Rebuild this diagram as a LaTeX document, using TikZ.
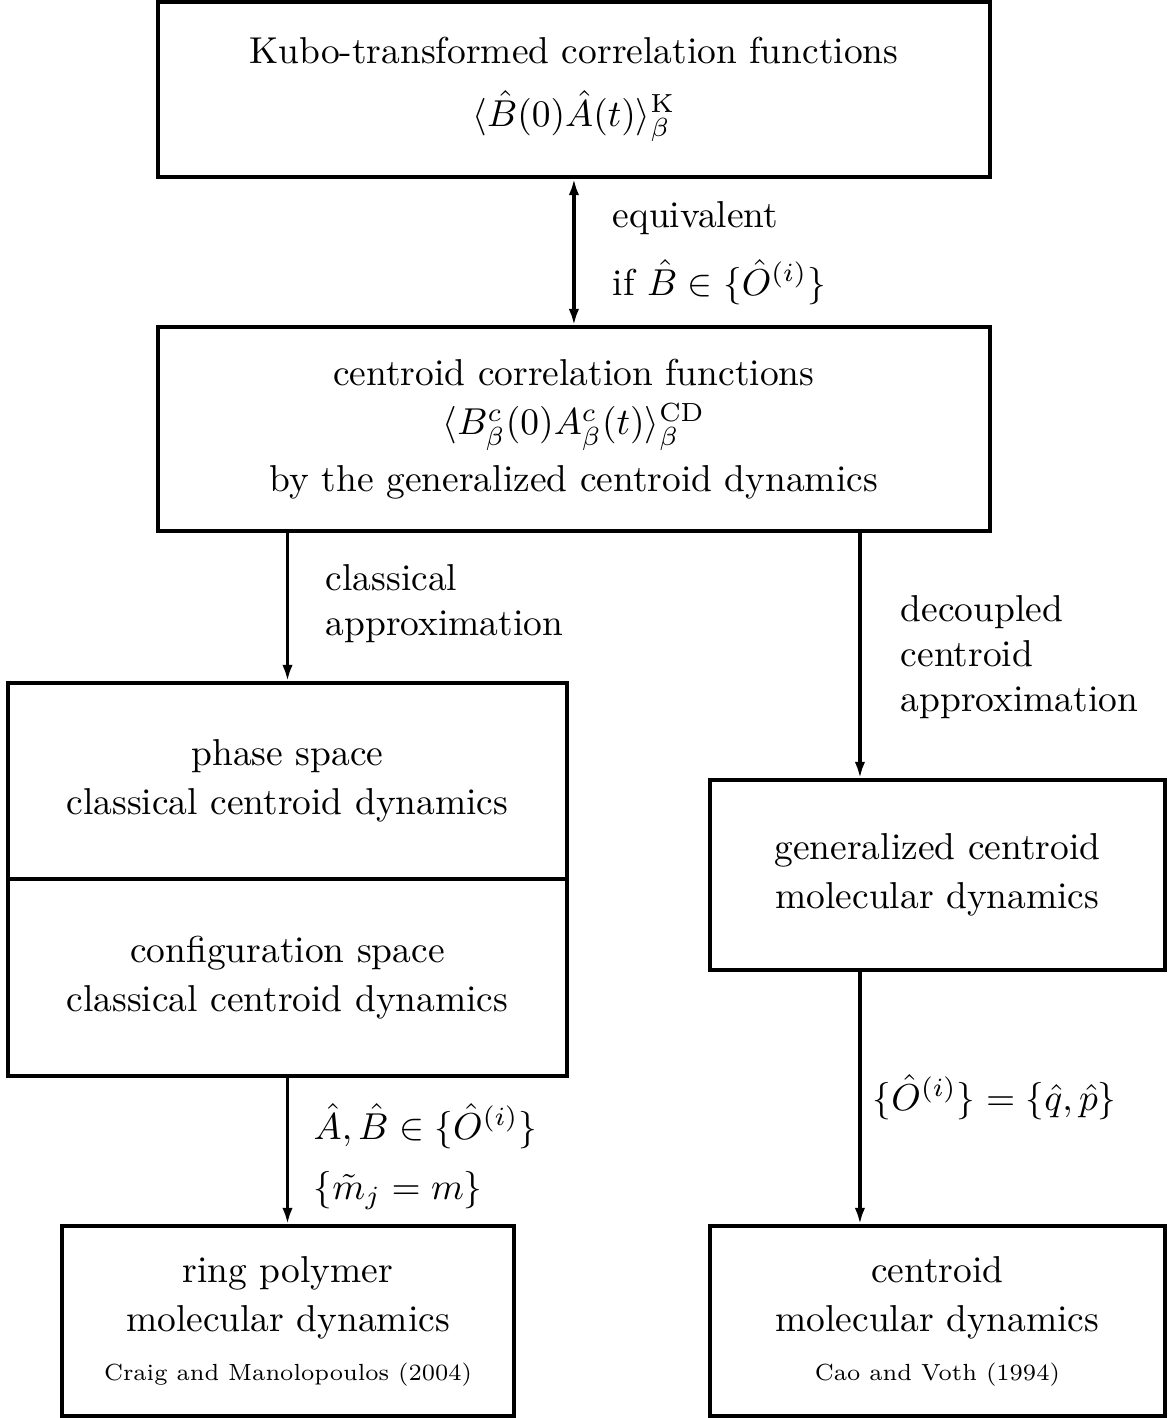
\documentclass[tikz,border=0pt]{standalone}
\usepackage{amsmath}
\usepackage{tikz}
\usetikzlibrary{arrows.meta}
\pgfdeclarelayer{edgelayer}
\pgfdeclarelayer{nodelayer}
\pgfsetlayers{edgelayer,nodelayer,main}
\tikzstyle{none}=[inner sep=0pt]
\tikzstyle{box}=[rectangle, draw, line width=0.9pt, align=center, font=\linespread{1.09}\selectfont]
\tikzstyle{link}=[line width=0.9pt, >={Latex[length=4.4pt,width=2.8pt]}]
\newcommand{\refnote}[1]{\scalebox{0.89}{\scriptsize #1}}

\begin{document}
\begin{tikzpicture}
    \useasboundingbox (0,0) rectangle (10.989,-13.307);
    \begin{pgfonlayer}{nodelayer}
	\node [style=box, minimum width=7.808cm, minimum height=1.642cm] (0) at (5.386, -0.840) {Kubo-transformed correlation functions\\[3.7pt] $\langle\hat{B}(0)\hat{A}(t)\rangle_\beta^{\mathrm{K}}$};
	\node [style=box, minimum width=7.808cm, minimum height=1.914cm] (1) at (5.386, -4.026) {centroid correlation functions\\ $\langle B^c_\beta(0)A^c_\beta(t)\rangle_\beta^{\mathrm{CD}}$\\[2pt] by the generalized centroid dynamics};
	\node [style=box, minimum width=5.246cm, minimum height=1.840cm] (2) at (2.698, -7.329) {phase space\\ classical centroid dynamics};
	\node [style=box, minimum width=5.246cm, minimum height=1.848cm] (3) at (2.698, -9.173) {configuration space\\ classical centroid dynamics};
	\node [style=box, minimum width=4.270cm, minimum height=1.783cm] (4) at (8.797, -8.211) {generalized centroid\\ molecular dynamics};
	\node [style=box, minimum width=4.242cm, minimum height=1.783cm] (5) at (2.703, -12.396) {ring polymer\\ molecular dynamics\\ \refnote{Craig and Manolopoulos (2004)}};
	\node [style=box, minimum width=4.270cm, minimum height=1.783cm] (6) at (8.797, -12.396) {centroid\\ molecular dynamics\\ \refnote{Cao and Voth (1994)}};
	\node [style=none, anchor=west, align=left] (7) at (5.743, -2.374) {equivalent\\[6pt] if $\hat{B}\in\{\hat{O}^{(i)}\}$};
	\node [style=none, anchor=west, align=left] (8) at (3.050, -5.663) {classical\\ approximation};
	\node [style=none, anchor=west, align=left] (9) at (8.446, -6.165) {decoupled\\ centroid\\ approximation};
	\node [style=none, anchor=west, align=left] (10) at (2.937, -10.857) {$\hat{A},\hat{B}\in\{\hat{O}^{(i)}\}$\\[4pt] $\{\tilde{m}_j=m\}$};
	\node [style=none, anchor=west] (11) at (8.183, -10.294) {$\{\hat{O}^{(i)}\}=\{\hat{q},\hat{p}\}$};
	\coordinate (12) at (8.070, 0);
    \end{pgfonlayer}
    \begin{pgfonlayer}{edgelayer}
	\draw [style=link, <->] (0) to (1);
	\draw [style=link, ->] (1.south -| 2.north) to (2.north);
	\draw [style=link, ->] (12 |- 1.south) to (12 |- 4.north);
	\draw [style=link, ->] (3.south) to (3.south |- 5.north);
	\draw [style=link, ->] (12 |- 4.south) to (12 |- 6.north);
    \end{pgfonlayer}
\end{tikzpicture}
\end{document}
